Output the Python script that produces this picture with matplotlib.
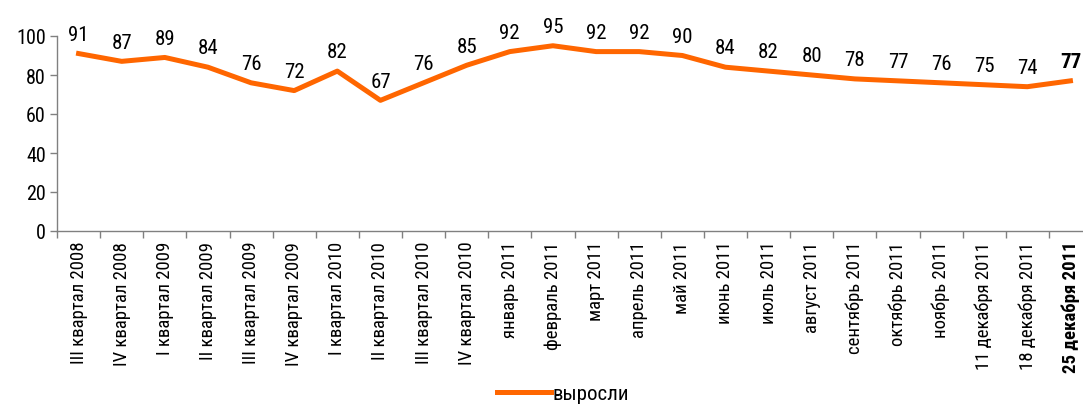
import matplotlib
matplotlib.use("Agg")
import matplotlib.pyplot as plt
from matplotlib import font_manager
import numpy as np

categories = ["III квартал 2008", "IV квартал 2008", "I квартал 2009", "II квартал 2009",
              "III квартал 2009", "IV квартал 2009", "I квартал 2010", "II квартал 2010",
              "III квартал 2010", "IV квартал 2010", "январь 2011", "февраль 2011",
              "март 2011", "апрель 2011", "май 2011", "июнь 2011", "июль 2011",
              "август 2011", "сентябрь 2011", "октябрь 2011", "ноябрь 2011",
              "11 декабря 2011", "18 декабря 2011", "25 декабря 2011"]
values = [91, 87, 89, 84, 76, 72, 82, 67, 76, 85, 92, 95, 92, 92, 90, 84, 82, 80, 78, 77, 76, 75, 74, 77]
series_name = "выросли"

installed = {f.name for f in font_manager.fontManager.ttflist}
family = "DejaVu Sans"
for cand in ["Liberation Sans Narrow", "Roboto Condensed", "Open Sans Condensed",
             "Noto Sans Condensed", "Liberation Sans"]:
    if cand in installed:
        family = cand
        break
plt.rcParams['font.family'] = [family, 'DejaVu Sans']

W, H = 1083, 406
fig = plt.figure(figsize=(W / 100, H / 100), dpi=100)
left, right = 57 / W, 1092 / W
bottom, top = (H - 232) / H, (H - 37) / H
ax = fig.add_axes([left, bottom, right - left, top - bottom])

color = "#FF6600"
x = np.arange(len(values))
line, = ax.plot(x, values, color=color, lw=3.6, solid_joinstyle='round', label=series_name)

for i, v in enumerate(values):
    last = i == len(values) - 1
    ax.annotate(str(v), (i, v), xytext=(0, 7), textcoords="offset points",
                ha="center", va="bottom", fontsize=15,
                fontweight="bold" if last else "normal", color="black")

ax.set_xlim(-0.5, len(values) - 0.5)
ax.set_ylim(0, 100)
ax.set_yticks(range(0, 101, 20))
ax.set_xticks(x)
ax.set_xticklabels(categories, rotation=90, fontsize=13.5)
ax.get_xticklabels()[-1].set_fontweight("bold")
ax.set_xticks(np.arange(-0.5, len(values), 1), minor=True)
ax.tick_params(axis='x', which='major', length=0, pad=7)
ax.tick_params(axis='x', which='minor', length=5, color="#808080", width=1)
ax.tick_params(axis='y', length=5, color="#808080", width=1, labelsize=14.5, pad=3)

for s in ["top", "right"]:
    ax.spines[s].set_visible(False)
for s in ["left", "bottom"]:
    ax.spines[s].set_color("#808080")
    ax.spines[s].set_linewidth(1)

fig.legend(handles=[line], labels=[series_name], loc="center",
           bbox_to_anchor=(563 / W, 1 - 395 / H), frameon=False, fontsize=15,
           handlelength=2.6, handletextpad=0.1)

fig.savefig("out.png", dpi=100)
